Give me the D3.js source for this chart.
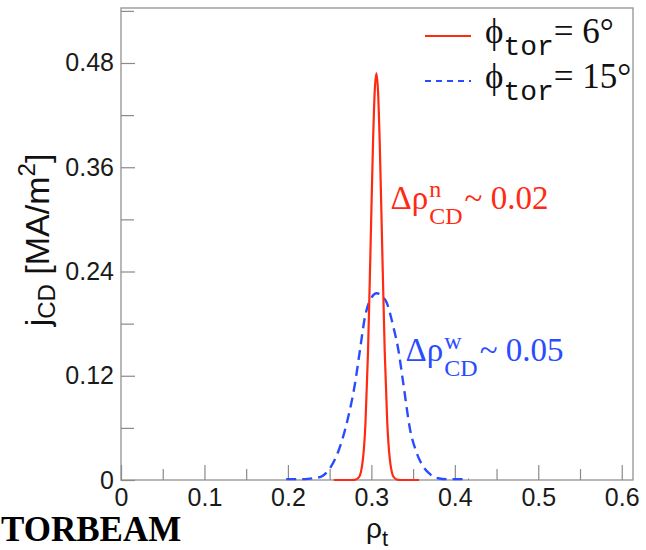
<!DOCTYPE html>
<html>
<head>
<meta charset="utf-8">
<script src="https://cdn.jsdelivr.net/npm/d3@7"></script>
<style>
  html, body { margin: 0; padding: 0; background: #fff; }
  svg { display: block; }
</style>
</head>
<body>
<svg id="chart" width="646" height="550"></svg>
<script>
// ---- data ----
const rhoNarrow = [0.255, 0.27, 0.28, 0.285, 0.29, 0.293, 0.296, 0.299, 0.302, 0.304, 0.306, 0.308, 0.310, 0.313, 0.316, 0.319, 0.322, 0.327, 0.332, 0.34, 0.357];
const jNarrow   = [0, 0, 0.0002, 0.003, 0.025, 0.067, 0.148, 0.267, 0.389, 0.447, 0.468, 0.447, 0.389, 0.267, 0.148, 0.067, 0.025, 0.003, 0.0002, 0, 0];

const rhoWide = [0.198, 0.21, 0.22, 0.23, 0.24, 0.25, 0.26, 0.2724, 0.2804, 0.2864, 0.2924, 0.2984, 0.3064, 0.3124, 0.3184, 0.3263, 0.3323, 0.3383, 0.3464, 0.354, 0.362, 0.37, 0.38, 0.39, 0.40, 0.417];
const jWide   = [0.001, 0.001, 0.001, 0.002, 0.004, 0.013, 0.032, 0.073, 0.111, 0.150, 0.188, 0.207, 0.215, 0.212, 0.204, 0.1765, 0.150, 0.111, 0.058, 0.032, 0.0155, 0.007, 0.002, 0.001, 0.001, 0.001];

const yMajorTicks = [0, 0.12, 0.24, 0.36, 0.48];
const yMinorTicks = [0.06, 0.18, 0.30, 0.42, 0.54];
const xMajorTicks = [0, 0.1, 0.2, 0.3, 0.4, 0.5, 0.6];
const xMinorTicks = [0.05, 0.15, 0.25, 0.35, 0.45, 0.55];

const seriesNames = ["6°", "15°"];
const annotations = [
  { sup: "n", sub: "CD", tail: "~ 0.02", x: 0.323, y: 0.312 },
  { sup: "w", sub: "CD", tail: "~ 0.05", x: 0.341, y: 0.137 }
];

// ---- layout ----
const W = 646, H = 550;
const margin = { left: 121, right: 13, top: 8, bottom: 70 };
const RED = "#ff2a12", BLUE = "#2a4cff";

const svg = d3.select("#chart");
const x = d3.scaleLinear().domain([0, 0.6135]).range([margin.left, W - margin.right]);
const y = d3.scaleLinear().domain([0, 0.5433]).range([H - margin.bottom, margin.top]);

// frame
svg.append("rect")
  .attr("x", x(0)).attr("y", y(0.5433))
  .attr("width", x(0.6135) - x(0)).attr("height", y(0) - y(0.5433))
  .attr("fill", "none").attr("stroke", "#9a9a9a").attr("stroke-width", 1.4);

const fmtY = d => d === 0 ? "0" : d3.format(".2f")(d);
const fmtX = d => d === 0 ? "0" : d3.format(".1f")(d);

function styleAxis(g) {
  g.select(".domain").remove();
  g.selectAll(".tick line").attr("stroke", "#8a8a8a").attr("stroke-width", 1.2);
  g.selectAll(".tick text").attr("fill", "#1a1a1a")
    .style("font-family", "'Liberation Sans', Arial, Helvetica, sans-serif")
    .style("font-size", "25px");
}

// y axis
svg.append("g").attr("transform", `translate(${x(0)},0)`)
  .call(d3.axisLeft(y).tickValues(yMajorTicks).tickFormat(fmtY).tickSizeInner(-14).tickSizeOuter(0).tickPadding(7))
  .call(styleAxis);
svg.append("g").attr("transform", `translate(${x(0)},0)`)
  .call(d3.axisLeft(y).tickValues(yMinorTicks).tickFormat("").tickSizeInner(-13).tickSizeOuter(0))
  .call(styleAxis);

// x axis
svg.append("g").attr("transform", `translate(0,${y(0)})`)
  .call(d3.axisBottom(x).tickValues(xMajorTicks).tickFormat(fmtX).tickSizeInner(-15).tickSizeOuter(0).tickPadding(8))
  .call(styleAxis);
svg.append("g").attr("transform", `translate(0,${y(0)})`)
  .call(d3.axisBottom(x).tickValues(xMinorTicks).tickFormat("").tickSizeInner(-11).tickSizeOuter(0))
  .call(styleAxis);

// curves
const line = d3.line().x(d => x(d[0])).y(d => y(d[1])).curve(d3.curveMonotoneX);
svg.append("path").datum(rhoWide.map((r, i) => [r, jWide[i]]))
  .attr("d", line).attr("fill", "none").attr("stroke", BLUE)
  .attr("stroke-width", 2.4).attr("stroke-dasharray", "10,6");
svg.append("path").datum(rhoNarrow.map((r, i) => [r, jNarrow[i]]))
  .attr("d", line).attr("fill", "none").attr("stroke", RED).attr("stroke-width", 2.2);

// legend
const serif = "'Liberation Serif', 'Times New Roman', Times, serif";
const mono = "'Liberation Mono', 'Courier New', Courier, monospace";
const legendRows = [
  { name: seriesNames[0], color: RED, dash: null, yb: 43 },
  { name: seriesNames[1], color: BLUE, dash: "6,5", yb: 88 }
];
legendRows.forEach(r => {
  svg.append("line").attr("x1", 425).attr("x2", 471).attr("y1", r.yb - 7).attr("y2", r.yb - 7)
    .attr("stroke", r.color).attr("stroke-width", 2).attr("stroke-dasharray", r.dash);
  const t = svg.append("text").attr("x", 485).attr("y", r.yb)
    .style("font-family", serif).style("font-size", "35px").attr("fill", "#111");
  t.append("tspan").text("ϕ");
  t.append("tspan").attr("dy", 12).style("font-family", mono).style("font-size", "28px").style("font-weight", "300").text("tor");
  t.append("tspan").attr("dy", -12).text("= " + r.name);
});

// annotations with stacked super/subscripts
function stacked(a, color) {
  const g = svg.append("g").attr("fill", color).style("font-family", serif);
  const x0 = x(a.x), yb = y(a.y);
  const base = g.append("text").attr("x", x0).attr("y", yb).style("font-size", "33px").text("Δρ");
  const bw = base.node().getComputedTextLength();
  const sp = g.append("text").attr("x", x0 + bw + 1).attr("y", yb - 12).style("font-size", "24px").text(a.sup);
  const sb = g.append("text").attr("x", x0 + bw + 1).attr("y", yb + 15).style("font-size", "24px").text(a.sub);
  const w = Math.max(sp.node().getComputedTextLength(), sb.node().getComputedTextLength());
  g.append("text").attr("x", x0 + bw + 1 + w + 2).attr("y", yb).style("font-size", "33px").text(a.tail);
}
stacked(annotations[0], RED);
stacked(annotations[1], BLUE);

// axis titles
const sans = "'Liberation Sans', Arial, Helvetica, sans-serif";
const yt = svg.append("text").attr("transform", "translate(49,240) rotate(-90)")
  .attr("text-anchor", "middle").style("font-family", sans).style("font-size", "34px").attr("fill", "#111");
yt.append("tspan").text("j");
yt.append("tspan").attr("dy", 6).style("font-size", "24px").text("CD");
yt.append("tspan").attr("dy", -6).text(" [MA/m");
yt.append("tspan").attr("dy", -14).style("font-size", "24px").text("2");
yt.append("tspan").attr("dy", 14).text("]");

const xt = svg.append("text").attr("x", 377).attr("y", 538).attr("text-anchor", "middle")
  .style("font-family", sans).style("font-size", "28px").attr("fill", "#111");
xt.append("tspan").text("ρ");
xt.append("tspan").attr("dy", 8).style("font-size", "22px").text("t");

// caption
svg.append("text").attr("x", 1).attr("y", 541)
  .style("font-family", serif).style("font-weight", "bold").style("font-size", "35px")
  .attr("fill", "#000").text("TORBEAM");
</script>
</body>
</html>
